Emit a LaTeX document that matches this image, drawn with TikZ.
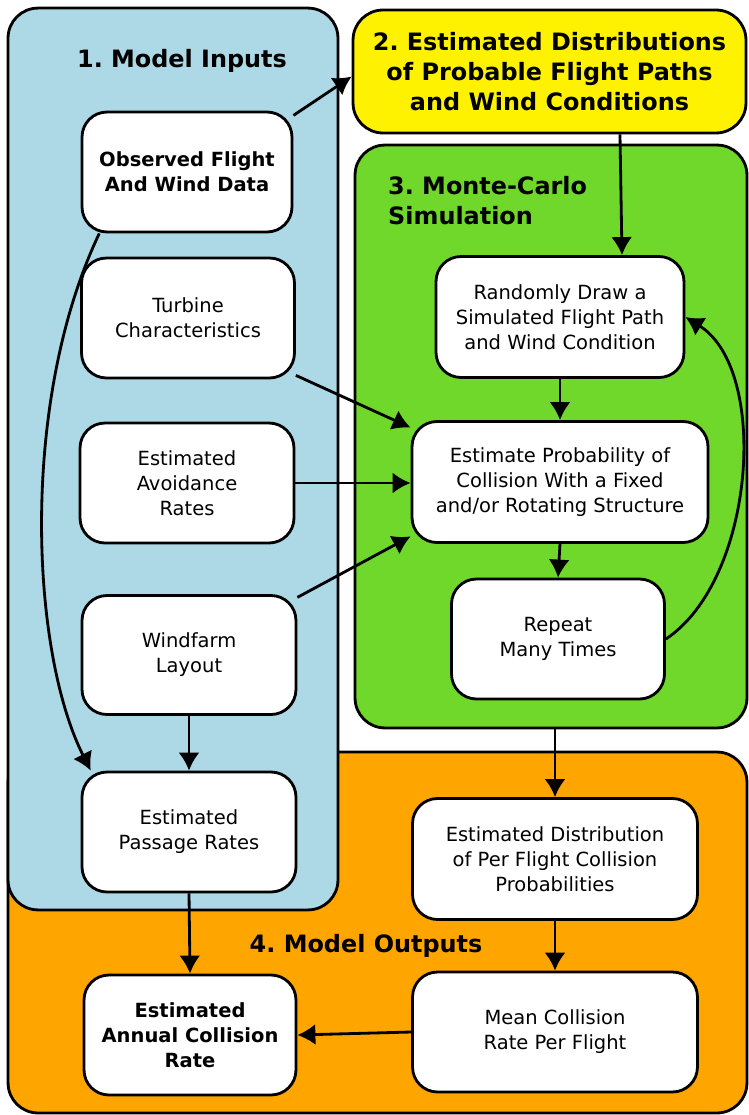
\documentclass[tikz,border=0pt]{standalone}
\usepackage{fontspec}
\setmainfont{DejaVu Sans}
\usetikzlibrary{arrows.meta, positioning, calc}
\definecolor{inputblue}{RGB}{173,216,230}
\definecolor{mcgreen}{RGB}{112,216,42}
\definecolor{outorange}{RGB}{255,165,0}
\frenchspacing

\begin{document}
\begin{tikzpicture}[x=0.02cm, y=-0.02cm,
    panel/.style={draw, rectangle, rounded corners=0.6cm, line width=1.6pt},
    box/.style={draw, rectangle, rounded corners=0.5cm, fill=white, line width=1.6pt, align=center, font=\fontsize{11.1}{14.2}\selectfont},
    heading/.style={font=\fontsize{13.6}{17}\selectfont\bfseries},
    arr/.style={-{Latex[length=3.6mm,width=4.2mm]}, line width=1.6pt}]
    \useasboundingbox (0,0) rectangle (748,1115);
    % panels
    \node[panel, fill=outorange, minimum width=14.78cm, minimum height=7.22cm] (outputs) at (377.5,932.5) {};
    \node[panel, fill=inputblue, minimum width=6.6cm, minimum height=18.04cm] (inputs) at (173,459) {};
    \node[panel, fill=yellow, minimum width=7.86cm, minimum height=2.46cm, align=center, font=\fontsize{13.6}{17}\selectfont\bfseries] (distr) at (549.5,71.5) {2. Estimated Distributions\\of Probable Flight Paths\\and Wind Conditions};
    \node[panel, fill=mcgreen, minimum width=7.84cm, minimum height=11.66cm] (montecarlo) at (551,436.5) {};
    \node[heading] (t1) at (182,61) {1. Model Inputs};
    \node[heading, align=left, anchor=west] (t3) at (382,201) {3. Monte-Carlo\\Simulation};
    \node[heading] (t4) at (366,946) {4. Model Outputs};

    % model inputs
    \node[box, minimum width=4.2cm, minimum height=2.4cm, font=\fontsize{11.1}{14.2}\selectfont\bfseries] (obs) at (187,172) {Observed Flight\\And Wind Data};
    \node[box, minimum width=4.26cm, minimum height=2.4cm] (turb) at (188,318) {Turbine\\Characteristics};
    \node[box, minimum width=4.28cm, minimum height=2.4cm] (avoid) at (187,483) {Estimated\\Avoidance\\Rates};
    \node[box, minimum width=4.28cm, minimum height=2.38cm] (wind) at (189,655) {Windfarm\\Layout};
    \node[box, minimum width=4.28cm, minimum height=2.4cm] (pass) at (189,832) {Estimated\\Passage Rates};

    % monte-carlo
    \node[box, minimum width=4.96cm, minimum height=2.42cm] (rand) at (560,317) {Randomly Draw a\\Simulated Flight Path\\and Wind Condition};
    \node[box, minimum width=5.92cm, minimum height=2.42cm] (est) at (560,482) {Estimate Probability of\\Collision With a Fixed\\and/or Rotating Structure};
    \node[box, minimum width=4.26cm, minimum height=2.4cm] (rep) at (558,639) {Repeat\\Many Times};

    % model outputs
    \node[box, minimum width=5.7cm, minimum height=2.42cm] (dist) at (555,859) {Estimated Distribution\\of Per Flight Collision\\Probabilities};
    \node[box, minimum width=5.7cm, minimum height=2.4cm] (mean) at (555,1032) {Mean Collision\\Rate Per Flight};
    \node[box, minimum width=4.24cm, minimum height=2.4cm, font=\fontsize{11.1}{14.2}\selectfont\bfseries] (annual) at (190,1035) {Estimated\\Annual Collision\\Rate};

    % connectors
    \draw[arr] (obs.28) -- ([yshift=-0.1cm]distr.west);
    \draw[arr] ([xshift=1.41cm]distr.south) -- ([xshift=1.24cm]rand.north);
    \draw[arr] (turb.332) -- (est.160);
    \draw[arr] (avoid.east) -- (avoid.east -| est.west);
    \draw[arr] (wind.28) -- (est.200);
    \draw[arr] (rand.south) -- (est.north);
    \draw[arr] (est.south) -- (rep.north);
    \draw[arr] (rep.east) .. controls (755,580) and (770,370) .. (rand.east);
    \draw[arr] (obs.215) .. controls (20,400) and (30,650) .. (pass.148);
    \draw[arr] (wind.south) -- (pass.north);
    \draw[arr] (dist.north |- montecarlo.south) -- (dist.north);
    \draw[arr] (pass.south) -- (annual.north);
    \draw[arr] (dist.south) -- (mean.north);
    \draw[arr] (mean.west) -- (annual.east);
\end{tikzpicture}
\end{document}
